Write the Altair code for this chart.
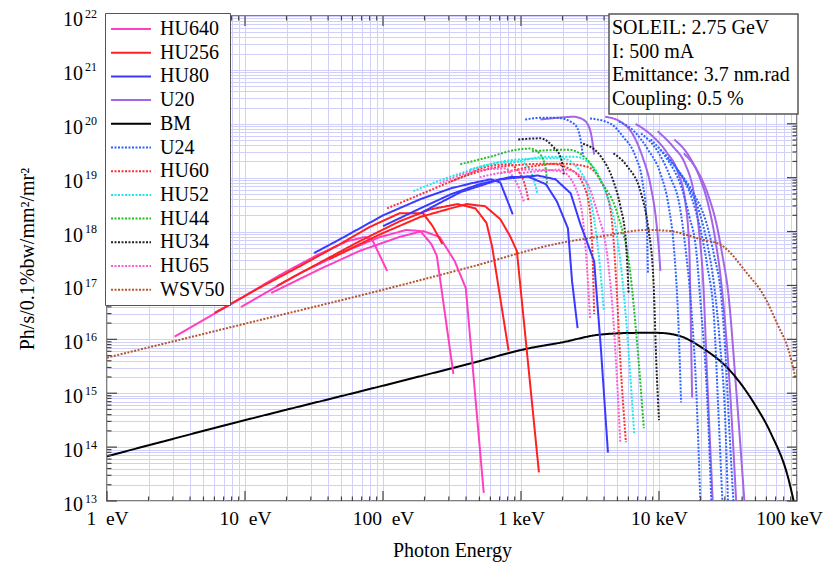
import altair as alt
import pandas as pd

# ---------------- data (log10 photon energy [eV], log10 brilliance) ----------------
SERIES = ["HU640", "HU256", "HU80", "U20", "BM", "U24", "HU60", "HU52", "HU44", "HU34", "HU65", "WSV50"]
COLORS = ["#ff3fbf", "#ff2020", "#3a3aff", "#a466e6", "#000000", "#2d62ff",
          "#ff3030", "#1ee8e8", "#22c022", "#222222", "#ff5ccf", "#b4552a"]
DOTTED = ["U24", "HU60", "HU52", "HU44", "HU34", "HU65", "WSV50"]
POLYLINE = ["HU640", "HU256", "HU80"]

HU640 = [
    ([0.49, 0.89, 1.25, 1.52, 1.74, 1.87, 1.92, 2.03],
     [16.05, 16.64, 17.19, 17.56, 17.82, 17.90, 17.86, 17.27]),
    ([0.97, 1.40, 1.76, 1.98, 2.17, 2.27, 2.35, 2.39, 2.51],
     [16.60, 17.23, 17.67, 17.90, 18.03, 18.01, 17.77, 17.55, 15.36]),
    ([1.19, 1.54, 1.83, 2.12, 2.29, 2.41, 2.52, 2.60, 2.73],
     [16.86, 17.30, 17.64, 17.90, 18.01, 17.90, 17.45, 16.95, 13.15]),
]
HU256 = [
    ([0.78, 1.10, 1.40, 1.69, 1.90, 2.12, 2.29, 2.36, 2.43],
     [16.49, 16.95, 17.36, 17.77, 18.08, 18.34, 18.34, 18.10, 17.77]),
    ([1.23, 1.54, 1.83, 2.12, 2.34, 2.54, 2.67, 2.75, 2.79, 2.91],
     [16.99, 17.42, 17.82, 18.19, 18.41, 18.51, 18.43, 18.16, 17.73, 15.79]),
    ([1.61, 1.98, 2.27, 2.49, 2.61, 2.74, 2.85, 2.92, 2.97, 3.13],
     [17.49, 17.95, 18.27, 18.43, 18.51, 18.47, 18.23, 17.92, 17.64, 13.53]),
]
HU80 = [
    ([1.50, 1.69, 2.00, 2.27, 2.49, 2.63, 2.78, 2.85, 2.89, 2.94],
     [17.60, 17.86, 18.30, 18.60, 18.80, 18.89, 18.97, 18.91, 18.65, 18.32]),
    ([2.00, 2.27, 2.49, 2.70, 2.92, 3.05, 3.18, 3.26, 3.34, 3.37, 3.41],
     [18.10, 18.43, 18.69, 18.88, 19.01, 19.02, 18.88, 18.56, 18.06, 17.08, 16.21]),
    ([2.27, 2.56, 2.85, 3.12, 3.25, 3.36, 3.43, 3.53, 3.58, 3.63],
     [18.34, 18.73, 18.97, 19.04, 18.97, 18.71, 18.14, 17.45, 15.79, 13.90]),
]
U20 = [
    ([3.14, 3.26, 3.38, 3.45, 3.50, 3.53],
     [20.08, 20.11, 20.13, 20.08, 19.89, 19.43]),
    ([3.61, 3.72, 3.82, 3.88, 3.94, 3.98, 4.00, 4.01],
     [20.13, 20.04, 19.76, 19.39, 18.84, 18.19, 17.64, 17.27]),
    ([3.83, 3.94, 4.05, 4.14, 4.19, 4.22, 4.23, 4.24],
     [20.00, 19.80, 19.49, 19.08, 18.56, 17.64, 16.34, 14.92]),
    ([3.99, 4.10, 4.19, 4.25, 4.29, 4.32, 4.35, 4.39],
     [19.86, 19.58, 19.25, 18.75, 18.01, 17.08, 15.23, 12.95]),
    ([4.11, 4.22, 4.30, 4.36, 4.41, 4.45, 4.51, 4.56],
     [19.71, 19.39, 18.97, 18.47, 17.82, 17.08, 15.23, 12.95]),
    ([4.18, 4.28, 4.36, 4.42, 4.46, 4.50, 4.56, 4.62],
     [19.45, 19.12, 18.65, 18.10, 17.55, 16.90, 15.05, 12.95]),
]
BM = [
    ([0.00, 1.00, 2.00, 2.63, 3.05, 3.29, 3.58, 3.84, 3.99, 4.14, 4.32, 4.50, 4.69, 4.81, 4.94, 4.98],
     [13.83, 14.50, 15.14, 15.55, 15.83, 15.94, 16.09, 16.12, 16.12, 16.07, 15.83, 15.46, 14.81, 14.26, 13.39, 12.95]),
]
U24 = [
    ([3.03, 3.14, 3.26, 3.36, 3.41, 3.43, 3.45],
     [20.08, 20.11, 20.11, 20.04, 19.91, 19.73, 19.39]),
    ([3.50, 3.65, 3.74, 3.83, 3.88, 3.91, 3.92],
     [20.10, 20.00, 19.76, 19.39, 18.93, 18.19, 17.23]),
    ([3.71, 3.82, 3.92, 4.01, 4.07, 4.11, 4.14, 4.16],
     [20.04, 19.86, 19.52, 19.08, 18.47, 17.64, 16.34, 14.83]),
    ([3.87, 3.99, 4.08, 4.15, 4.19, 4.23, 4.27, 4.30],
     [19.82, 19.49, 19.02, 18.47, 17.73, 16.71, 15.05, 12.95]),
    ([3.94, 4.06, 4.16, 4.22, 4.27, 4.30, 4.35, 4.38],
     [19.71, 19.34, 18.84, 18.28, 17.64, 16.71, 14.87, 12.95]),
    ([4.01, 4.14, 4.24, 4.30, 4.35, 4.40, 4.43, 4.46],
     [19.52, 19.12, 18.60, 18.04, 17.36, 16.34, 14.68, 12.95]),
    ([4.07, 4.20, 4.29, 4.35, 4.40, 4.44, 4.48, 4.50],
     [19.34, 18.89, 18.38, 17.77, 16.99, 15.97, 14.50, 12.95]),
    ([4.13, 4.25, 4.34, 4.40, 4.45, 4.48, 4.51, 4.54],
     [19.15, 18.71, 18.19, 17.55, 16.81, 15.79, 14.31, 12.95]),
]
HU60 = [
    ([2.03, 2.29, 2.63, 2.73, 2.92, 2.97, 3.02, 3.04, 3.055],
     [18.43, 18.71, 19.08, 19.19, 19.25, 19.15, 18.93, 18.75, 18.56]),
    ([2.49, 2.87, 3.21, 3.36, 3.45, 3.50, 3.52, 3.53],
     [18.93, 19.21, 19.26, 19.15, 18.88, 18.38, 17.45, 16.47]),
    ([2.85, 3.29, 3.47, 3.58, 3.65, 3.69, 3.72, 3.76],
     [19.08, 19.26, 19.21, 18.93, 18.38, 17.08, 15.60, 14.09]),
]
HU52 = [
    ([2.22, 2.56, 2.85, 2.99, 3.07, 3.12],
     [18.75, 19.08, 19.28, 19.30, 19.12, 18.69]),
    ([2.63, 2.99, 3.29, 3.42, 3.50, 3.56, 3.60],
     [19.15, 19.34, 19.36, 19.15, 18.65, 17.64, 16.55]),
    ([2.92, 3.21, 3.39, 3.52, 3.61, 3.69, 3.75, 3.82],
     [19.26, 19.39, 19.39, 19.21, 18.75, 18.01, 16.71, 14.26]),
]
HU44 = [
    ([2.56, 2.78, 2.97, 3.07, 3.14, 3.18, 3.19],
     [19.25, 19.39, 19.52, 19.54, 19.43, 19.15, 18.84]),
    ([3.08, 3.34, 3.47, 3.58, 3.70, 3.79, 3.84, 3.89],
     [19.49, 19.52, 19.36, 18.93, 18.32, 17.27, 15.97, 14.35]),
]
HU34 = [
    ([2.98, 3.14, 3.23, 3.29, 3.31],
     [19.71, 19.73, 19.58, 19.36, 19.06]),
    ([3.45, 3.58, 3.67, 3.72, 3.76, 3.78],
     [19.63, 19.39, 18.93, 18.47, 17.82, 16.84]),
    ([3.67, 3.77, 3.87, 3.92, 3.96, 3.98, 4.00],
     [19.45, 19.21, 18.71, 18.10, 17.08, 15.60, 14.50]),
]
HU65 = [
    ([2.41, 2.70, 2.89, 2.94, 2.99, 3.02],
     [18.89, 19.14, 19.17, 19.02, 18.78, 18.56]),
    ([2.70, 3.07, 3.29, 3.39, 3.45, 3.48, 3.50],
     [19.01, 19.15, 19.12, 18.84, 18.19, 17.27, 16.40]),
    ([2.99, 3.32, 3.47, 3.55, 3.63, 3.67, 3.70, 3.72],
     [19.08, 19.15, 18.93, 18.38, 17.45, 16.34, 15.05, 14.07]),
]
WSV50 = [
    ([0.00, 1.00, 2.00, 2.63, 3.29, 3.58, 3.92, 4.08, 4.30, 4.45, 4.64, 4.76, 4.86, 4.94, 4.99],
     [15.66, 16.29, 16.92, 17.34, 17.79, 17.91, 18.03, 18.01, 17.86, 17.75, 17.22, 16.81, 16.27, 15.79, 15.27]),
]

X_MAJOR = [1, 10, 100, 1000, 10000, 100000]
X_LABELS = ["1\u00a0\u00a0eV", "10\u00a0\u00a0eV", "100\u00a0\u00a0eV", "1 keV", "10 keV", "100 keV"]
Y_MAJOR = [10 ** k for k in range(13, 23)]
Y_BASE = ["10"] * 10
Y_EXP = ["13", "14", "15", "16", "17", "18", "19", "20", "21", "22"]
X_MINOR = [m * 10 ** k for k in range(0, 5) for m in range(2, 10)]
Y_MINOR = [m * 10 ** k for k in range(13, 22) for m in range(2, 10)]

INFO = ["SOLEIL: 2.75 GeV", "I: 500 mA", "Emittance: 3.7 nm.rad", "Coupling: 0.5 %"]

# ---------------- build tables ----------------
CURVES = {"HU640": HU640, "HU256": HU256, "HU80": HU80, "U20": U20, "BM": BM, "U24": U24,
          "HU60": HU60, "HU52": HU52, "HU44": HU44, "HU34": HU34, "HU65": HU65, "WSV50": WSV50}
rows = []
for s in SERIES:
    for ci, (le, lf) in enumerate(CURVES[s]):
        for j, (a, b) in enumerate(zip(le, lf)):
            rows.append({"series": s, "curve": f"{s}_{ci}", "idx": j, "E": 10 ** a, "F": 10 ** b})
df = pd.DataFrame(rows)
df_lin = df[df.series.isin(POLYLINE)]
df_smooth = df[~df.series.isin(POLYLINE)]

FONT = "Liberation Serif"
W, H = 690, 485
TICK = "#444444"


def label_expr(values, labels):
    parts = [f"datum.value == {v} ? '{t}'" for v, t in zip(values, labels)]
    return " : ".join(parts) + " : ''"


xs = alt.Scale(type="log", domain=[1, 100000])
ys = alt.Scale(type="log", domain=[1e13, 1e22])

xaxis = alt.Axis(values=sorted(X_MAJOR + X_MINOR), labelExpr=label_expr(X_MAJOR, X_LABELS),
                 grid=True, ticks=False, tickSize=0, domain=False, labelOverlap=False,
                 labelFlush=False, labelFont=FONT, labelFontSize=19.5, labelColor="black",
                 labelOffset={"condition": {"test": "datum.value == 100000", "value": -8}, "value": 0},
                 labelPadding=8, title="Photon Energy", titleFont=FONT, titleFontSize=20,
                 titleFontWeight="normal", titleColor="black", titleY=49, titleBaseline="middle")
yaxis = alt.Axis(values=sorted(Y_MAJOR + Y_MINOR), labels=False,
                 grid=True, ticks=False, tickSize=0, domain=False,
                 title="Ph/s/0.1%bw/mm²/mr²", titleFont=FONT, titleFontSize=20,
                 titleFontWeight="normal", titleColor="black", titleX=-70, titleY=H / 2,
                 titleBaseline="bottom", titleAlign="center")

leg = alt.Legend(orient="none", legendX=-2, legendY=-3, title=None, fillColor="white",
                 strokeColor="#555555", padding=5, rowPadding=2.7,
                 symbolType="M-2,0H2", symbolSize=400, symbolStrokeWidth=2, symbolOffset=10,
                 labelFont=FONT, labelFontSize=20, labelColor="black", labelOffset=18)

DASHES = [[2, 1.5] if s in DOTTED else [1, 0] for s in SERIES]
color = alt.Color("series:N", scale=alt.Scale(domain=SERIES, range=COLORS), legend=leg)
dash = alt.StrokeDash("series:N", scale=alt.Scale(domain=SERIES, range=DASHES), legend=leg)

XE = alt.X("E:Q", scale=xs, axis=xaxis)
YF = alt.Y("F:Q", scale=ys, axis=yaxis)


def lines(data, interp):
    return alt.Chart(data).mark_line(clip=True, strokeWidth=2, interpolate=interp).encode(
        x=XE, y=YF, color=color, strokeDash=dash, detail="curve:N", order="idx:Q")


def xticks(vals, y0, y1):
    return alt.Chart(pd.DataFrame({"E": vals})).mark_rule(color=TICK, strokeWidth=1.2).encode(
        x=XE, y=alt.value(y0), y2=alt.value(y1))


def yticks(vals, x0, x1):
    return alt.Chart(pd.DataFrame({"F": vals})).mark_rule(color=TICK, strokeWidth=1.2).encode(
        y=YF, x=alt.value(x0), x2=alt.value(x1))


ticks = [
    xticks(X_MAJOR, H, H - 10), xticks(X_MINOR, H, H - 4.5),
    xticks(X_MAJOR, 0, 10), xticks(X_MINOR, 0, 4.5),
    yticks(Y_MAJOR, 0, 10), yticks(Y_MINOR, 0, 4.5),
    yticks(Y_MAJOR, W, W - 10), yticks(Y_MINOR, W, W - 4.5),
]

ylab_df = pd.DataFrame({"F": Y_MAJOR, "base": Y_BASE, "exp": Y_EXP})
ylab_base = alt.Chart(ylab_df).mark_text(align="right", baseline="middle", font=FONT,
                                         fontSize=20, color="black", dy=4).encode(
    y=YF, x=alt.value(-24), text="base:N")
ylab_exp = alt.Chart(ylab_df).mark_text(align="left", baseline="middle", font=FONT,
                                        fontSize=12, color="black", dy=-2.5).encode(
    y=YF, x=alt.value(-22), text="exp:N")

info_df = pd.DataFrame({"t": ["\n".join(INFO)]})
info_box = alt.Chart(info_df).mark_rect(fill="white", stroke="#555555", strokeWidth=1.5).encode(
    x=alt.value(502), x2=alt.value(691), y=alt.value(-2), y2=alt.value(98))
info_text = alt.Chart(info_df).mark_text(align="left", baseline="top", lineBreak="\n",
                                         lineHeight=23.7, font=FONT, fontSize=20,
                                         color="black").encode(
    x=alt.value(505), y=alt.value(2), text="t:N")

chart = alt.layer(
    lines(df_smooth, "monotone"), lines(df_lin, "linear"), *ticks,
    ylab_base, ylab_exp, info_box, info_text
).properties(
    width=W, height=H,
    autosize=alt.AutoSizeParams(type="none"),
    padding={"left": 99, "top": 8, "right": 26, "bottom": 62},
).configure_view(stroke="#555555", strokeWidth=1.5).configure_axis(
    gridColor="#d0d0fa", gridWidth=1, gridOpacity=1
)

chart.save("out.html", embed_options={"renderer": "svg", "actions": False})
